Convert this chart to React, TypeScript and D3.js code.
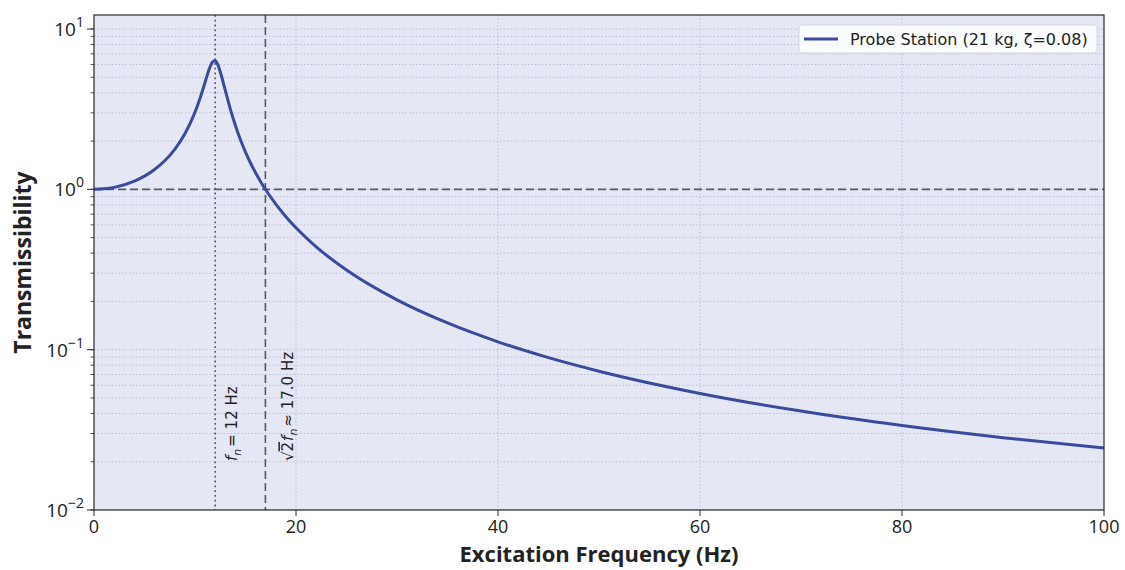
import React from 'react';
import * as d3 from 'd3';

// Excitation frequency (Hz) and transmissibility
const freqs = [0, 1, 2, 4, 6, 7, 8, 9, 10, 10.5, 11, 11.5, 11.75, 12, 12.25, 12.5, 13, 13.5, 14, 14.5, 15, 15.5, 16, 16.5, 17, 18, 19, 20, 22, 25, 30, 35, 40, 45, 50, 60, 70, 80, 90, 100];
const trans = [1.0, 1.007, 1.0285, 1.1246, 1.3301, 1.5074, 1.7777, 2.2201, 3.0261, 3.6987, 4.661, 5.8246, 6.248, 6.3295, 6.0073, 5.4178, 4.137, 3.1666, 2.5025, 2.041, 1.7082, 1.4596, 1.2678, 1.1161, 0.99344, 0.80796, 0.67508, 0.57572, 0.43801, 0.31401, 0.20456, 0.14672, 0.11193, 0.089184, 0.073397, 0.05333, 0.0414, 0.033645, 0.028266, 0.024346];

const xTicks = [0, 20, 40, 60, 80, 100];
const yExponents = [-2, -1, 0, 1];
const naturalFreq = 12;
const crossoverFreq = 16.97;
const legendLabel = 'Probe Station (21 kg, ζ=0.08)';

const W = 1125;
const H = 570;
const M = { left: 94, top: 15, right: 1104, bottom: 510 };
const FONT = '"Open Sans", "Noto Sans", sans-serif';
const SMALL_FONT = '"DejaVu Sans", sans-serif';

export default function App() {
  const x = d3.scaleLinear().domain([0, 100]).range([M.left, M.right]);
  const y = d3.scaleLog().domain([0.01, 12.23]).range([M.bottom, M.top]);

  const minorY: number[] = [];
  for (let e = -2; e <= 1; e++) {
    for (let m = 1; m <= 9; m++) {
      const v = m * Math.pow(10, e);
      if (v >= 0.01 && v <= 12.2) minorY.push(v);
    }
  }

  const line = d3
    .line<number>()
    .x((_, i) => x(freqs[i]))
    .y((d) => y(d))
    .curve(d3.curveMonotoneX);

  const gridColor = '#aeb3c6';

  return (
    <svg width={W} height={H} style={{ display: 'block', position: 'absolute', left: 0, top: 0 }} fontFamily={FONT}>
      <rect x={0} y={0} width={W} height={H} fill="#fff" />
      <rect x={M.left} y={M.top} width={M.right - M.left} height={M.bottom - M.top} fill="#e5e8f4" />

      {/* grid */}
      {minorY.map((v) => (
        <line key={'gy' + v} x1={M.left} x2={M.right} y1={y(v)} y2={y(v)} stroke={gridColor} strokeWidth={0.8} strokeDasharray="1.5,2" />
      ))}
      {xTicks.slice(1, -1).map((t) => (
        <line key={'gx' + t} x1={x(t)} x2={x(t)} y1={M.top} y2={M.bottom} stroke={gridColor} strokeWidth={0.8} strokeDasharray="1.5,2" />
      ))}

      {/* reference lines */}
      <line x1={M.left} x2={M.right} y1={y(1)} y2={y(1)} stroke="#555a66" strokeWidth={1.6} strokeDasharray="8,4" />
      <line x1={x(naturalFreq)} x2={x(naturalFreq)} y1={M.top} y2={M.bottom} stroke="#555a66" strokeWidth={1.6} strokeDasharray="1.8,3" />
      <line x1={x(crossoverFreq)} x2={x(crossoverFreq)} y1={M.top} y2={M.bottom} stroke="#555a66" strokeWidth={1.6} strokeDasharray="8,4" />

      {/* curve */}
      <path d={line(trans) || ''} fill="none" stroke="#3a4a9c" strokeWidth={3} strokeLinejoin="round" />

      {/* annotations */}
      <g fontFamily={SMALL_FONT} fontSize={15} fill="#222">
        <text transform={`translate(${x(naturalFreq) + 22},461) rotate(-90)`}>
          <tspan fontStyle="italic">f</tspan>
          <tspan fontStyle="italic" fontSize={11} dy={4}>n</tspan>
          <tspan dy={-4} dx={2}>= 12 Hz</tspan>
        </text>
        <text transform={`translate(${x(crossoverFreq) + 28},461) rotate(-90)`}>
          <tspan>√</tspan>
          <tspan textDecoration="overline">2</tspan>
          <tspan fontStyle="italic" dx={1}>f</tspan>
          <tspan fontStyle="italic" fontSize={11} dy={4}>n</tspan>
          <tspan dy={-4} dx={2}>≈ 17.0 Hz</tspan>
        </text>
      </g>

      {/* frame */}
      <rect x={M.left} y={M.top} width={M.right - M.left} height={M.bottom - M.top} fill="none" stroke="#2a2a2a" strokeWidth={1.2} />

      {/* x axis */}
      {xTicks.map((t) => (
        <g key={'xt' + t}>
          <line x1={x(t)} x2={x(t)} y1={M.bottom} y2={M.bottom + 6} stroke="#2a2a2a" strokeWidth={1} />
          <text x={x(t)} y={M.bottom + 23} fontSize={18} textAnchor="middle" fill="#222">{t}</text>
        </g>
      ))}

      {/* y axis */}
      {minorY.map((v) => (
        <line key={'ymt' + v} x1={M.left - 3.5} x2={M.left} y1={y(v)} y2={y(v)} stroke="#2a2a2a" strokeWidth={0.8} />
      ))}
      {yExponents.map((e) => (
        <g key={'yt' + e}>
          <line x1={M.left - 7} x2={M.left} y1={y(Math.pow(10, e))} y2={y(Math.pow(10, e))} stroke="#2a2a2a" strokeWidth={1} />
          <text x={M.left - 10} y={y(Math.pow(10, e)) + 7} fontSize={19} textAnchor="end" fill="#222">
            10<tspan fontSize={14} dy={-9}>{e < 0 ? '−' + Math.abs(e) : String(e)}</tspan>
          </text>
        </g>
      ))}

      {/* axis titles */}
      <text x={(M.left + M.right) / 2} y={562} fontSize={22} fontWeight="bold" textAnchor="middle" fill="#222">Excitation Frequency (Hz)</text>
      <text transform={`translate(31,${(M.top + M.bottom) / 2}) rotate(-90)`} fontSize={23} fontWeight="bold" textAnchor="middle" fill="#222">Transmissibility</text>

      {/* legend */}
      <rect x={799} y={25} width={298} height={28} rx={3} fill="#ffffff" fillOpacity={0.85} stroke="#d4d6dc" strokeWidth={1} />
      <line x1={804} x2={838} y1={39} y2={39} stroke="#3a4a9c" strokeWidth={3} />
      <text x={850} y={45} fontSize={16} fontFamily={SMALL_FONT} fill="#222">{legendLabel}</text>
    </svg>
  );
}
